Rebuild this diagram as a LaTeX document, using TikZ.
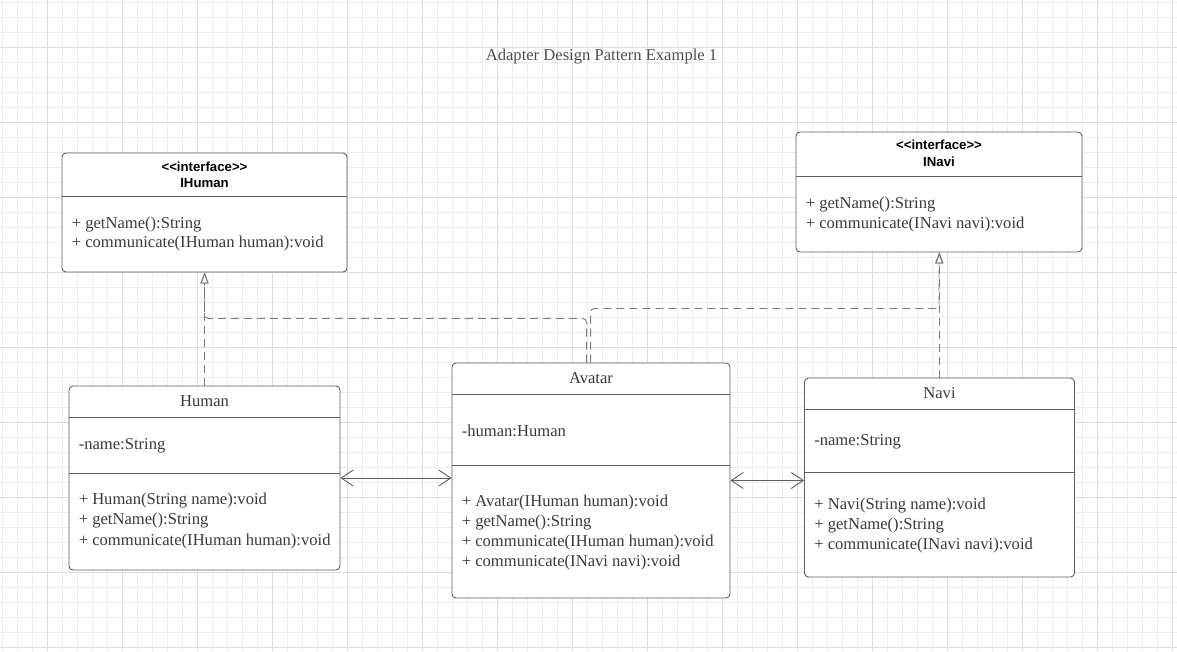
\documentclass[tikz,border=0pt]{standalone}
\usepackage{fontspec}
\setmainfont{Liberation Serif}
\newfontfamily\headfont{Liberation Sans}
\usetikzlibrary{arrows.meta, calc}

\definecolor{gridminor}{HTML}{EDEDED}
\definecolor{gridmajor}{HTML}{DDDDDD}
\definecolor{umlline}{HTML}{5E5E5E}
\definecolor{umltext}{HTML}{3A3A3A}
\definecolor{dashline}{HTML}{7A7A7A}

\tikzset{
  classbox/.style={draw=umlline, line width=0.9pt, rounded corners=4pt, fill=white, inner sep=0pt},
  member/.style={anchor=west, inner sep=0pt, text=umltext, font=\fontsize{16.6}{19}\selectfont},
  stereo/.style={inner sep=0pt, text=black, font=\headfont\bfseries\fontsize{13.2}{15}\selectfont},
  classname/.style={inner sep=0pt, text=umltext, font=\fontsize{16.6}{19}\selectfont},
  divider/.style={draw=umlline, line width=0.9pt},
  realize/.style={draw=dashline, line width=0.9pt, dash pattern=on 8pt off 5pt, -{Triangle[open, length=11pt, width=8pt]}},
  assoc/.style={draw=umlline, line width=0.9pt, <->}
}

\begin{document}
\begin{tikzpicture}[x=1pt, y=-1pt, >={Straight Barb[length=12pt, width=16pt]}]
  \useasboundingbox (0,0) rectangle (1177,651);
  \fill[white] (0,0) rectangle (1177,651);
  % grid
  \foreach \gx in {2,17,...,1172} \draw[gridminor, line width=1pt] (\gx,0) -- (\gx,651);
  \foreach \gy in {2,17,...,647} \draw[gridminor, line width=1pt] (0,\gy) -- (1177,\gy);
  \foreach \gx in {47,122,...,1172} \draw[gridmajor, line width=1pt] (\gx,0) -- (\gx,651);
  \foreach \gy in {47,122,...,647} \draw[gridmajor, line width=1pt] (0,\gy) -- (1177,\gy);

  \node[text=umltext!90, inner sep=0pt, font=\fontsize{16.6}{19}\selectfont] (title) at (601.5,57) {Adapter Design Pattern Example 1};

  % interfaces
  \node[classbox, minimum width=285pt, minimum height=119pt] (ihuman) at (204.5,212.5) {};
  \node[stereo] (ihumanst) at ($(ihuman.north)+(0,14)$) {<<interface>>};
  \node[stereo] (ihumanname) at ($(ihuman.north)+(0,30)$) {IHuman};
  \draw[divider] ($(ihuman.north west)+(0,44)$) -- ($(ihuman.north east)+(0,44)$);
  \node[member] (ihumanm1) at ($(ihuman.north west)+(10,72)$) {+ getName():String};
  \node[member] (ihumanm2) at ($(ihuman.north west)+(10,91)$) {+ communicate(IHuman human):void};

  \node[classbox, minimum width=286pt, minimum height=120pt] (inavi) at (939,192) {};
  \node[stereo] (inavist) at ($(inavi.north)+(0,13)$) {<<interface>>};
  \node[stereo] (inaviname) at ($(inavi.north)+(0,30)$) {INavi};
  \draw[divider] ($(inavi.north west)+(0,45)$) -- ($(inavi.north east)+(0,45)$);
  \node[member] (inavim1) at ($(inavi.north west)+(10,73)$) {+ getName():String};
  \node[member] (inavim2) at ($(inavi.north west)+(10,93)$) {+ communicate(INavi navi):void};

  % classes
  \node[classbox, minimum width=271pt, minimum height=184pt] (human) at (204.5,478) {};
  \node[classname] (humanname) at ($(human.north)+(0,16)$) {Human};
  \draw[divider] ($(human.north west)+(0,32)$) -- ($(human.north east)+(0,32)$);
  \draw[divider] ($(human.north west)+(0,88)$) -- ($(human.north east)+(0,88)$);
  \node[member] (humana1) at ($(human.north west)+(10,60)$) {-name:String};
  \node[member] (humanm1) at ($(human.north west)+(10,115)$) {+ Human(String name):void};
  \node[member] (humanm2) at ($(human.north west)+(10,135)$) {+ getName():String};
  \node[member] (humanm3) at ($(human.north west)+(10,156)$) {+ communicate(IHuman human):void};

  \node[classbox, minimum width=278pt, minimum height=235pt] (avatar) at (591,480.5) {};
  \node[classname] (avatarname) at ($(avatar.north)+(0,16)$) {Avatar};
  \draw[divider] ($(avatar.north west)+(0,32)$) -- ($(avatar.north east)+(0,32)$);
  \draw[divider] ($(avatar.north west)+(0,103)$) -- ($(avatar.north east)+(0,103)$);
  \node[member] (avatara1) at ($(avatar.north west)+(10,68)$) {-human:Human};
  \node[member] (avatarm1) at ($(avatar.north west)+(10,140)$) {+ Avatar(IHuman human):void};
  \node[member] (avatarm2) at ($(avatar.north west)+(10,160)$) {+ getName():String};
  \node[member] (avatarm3) at ($(avatar.north west)+(10,180)$) {+ communicate(IHuman human):void};
  \node[member] (avatarm4) at ($(avatar.north west)+(10,200)$) {+ communicate(INavi navi):void};

  \node[classbox, minimum width=270pt, minimum height=199pt] (navi) at (939.5,477.5) {};
  \node[classname] (naviname) at ($(navi.north)+(0,16)$) {Navi};
  \draw[divider] ($(navi.north west)+(0,32)$) -- ($(navi.north east)+(0,32)$);
  \draw[divider] ($(navi.north west)+(0,95)$) -- ($(navi.north east)+(0,95)$);
  \node[member] (navia1) at ($(navi.north west)+(10,64)$) {-name:String};
  \node[member] (navim1) at ($(navi.north west)+(10,128)$) {+ Navi(String name):void};
  \node[member] (navim2) at ($(navi.north west)+(10,148)$) {+ getName():String};
  \node[member] (navim3) at ($(navi.north west)+(10,168)$) {+ communicate(INavi navi):void};

  % realizations
  \draw[realize] (human.north) -- (ihuman.south);
  \draw[realize, rounded corners=4pt] ($(avatar.north west)+(135,0)$) |- ($(ihuman.south)+(0,46)$) -- (ihuman.south);
  \draw[realize, rounded corners=4pt] ($(avatar.north west)+(139,0)$) |- ($(inavi.south)+(0,56)$) -- (inavi.south);
  \draw[realize] (navi.north) -- (navi.north |- inavi.south);

  % associations
  \draw[assoc] (human.east) -- (human.east -| avatar.west);
  \draw[assoc] (avatar.east) -- (avatar.east -| navi.west);
\end{tikzpicture}
\end{document}
